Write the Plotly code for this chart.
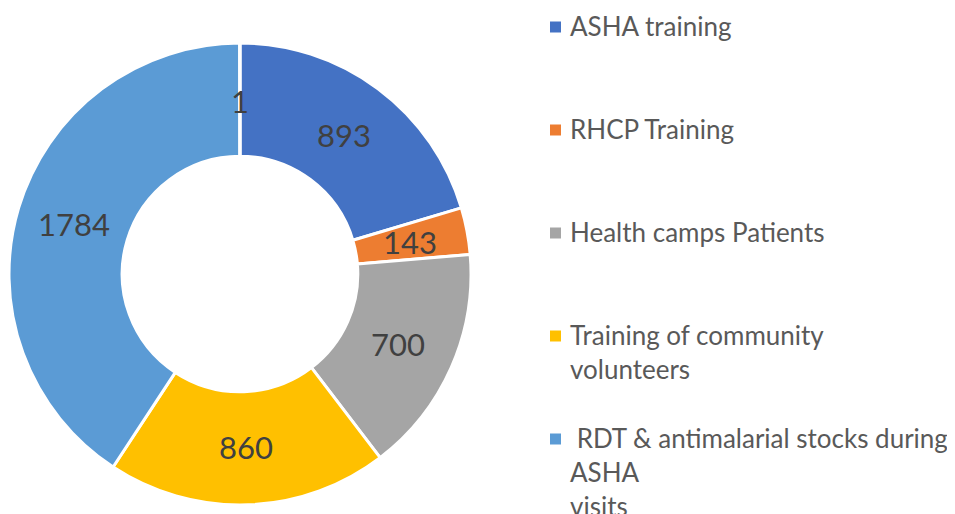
import math
import plotly.graph_objects as go

categories = ["ASHA training", "RHCP Training", "Health camps Patients",
              "Training of community volunteers",
              "RDT & antimalarial stocks during ASHA visits", "Other"]
values = [893, 143, 700, 860, 1784, 1]
colors = ["#4472C4", "#ED7D31", "#A5A5A5", "#FFC000", "#5B9BD5", "#70AD47"]
legend_labels = ["ASHA training", "RHCP Training", "Health camps Patients",
                 "Training of community<br>volunteers",
                 " RDT & antimalarial stocks during<br>ASHA<br>visits"]

W, H = 955, 514
OFF = 8  # page body margin offset


def px2x(x):
    return (x - OFF) / W


def px2y(y):
    return 1 - (y - OFF) / H


CX, CY, RAD = 240, 274, 231
dom_x = [px2x(CX - RAD), px2x(CX + RAD)]
dom_y = [px2y(CY + RAD), px2y(CY - RAD)]
hole = 0.51

fig = go.Figure(go.Pie(
    labels=categories, values=values, sort=False, direction="clockwise",
    rotation=0, hole=hole, textinfo="none",
    marker=dict(colors=colors, line=dict(color="white", width=3)),
    domain=dict(x=dom_x, y=dom_y), showlegend=False,
))

# data labels at ring mid-radius, derived from values
rm = 229.5 * (1 + hole) / 2
total = sum(values)
cum = 0
for v in values:
    mid = (cum + v / 2) / total * 2 * math.pi
    cum += v
    px = CX + rm * math.sin(mid)
    py = CY - rm * math.cos(mid)
    fig.add_annotation(x=px2x(px), y=px2y(py), xref="paper", yref="paper",
                       xanchor="center", yanchor="middle",
                       text=str(v), showarrow=False,
                       font=dict(family="Lato", size=31, color="#404040"))

# legend
for i, lab in enumerate(legend_labels):
    yc = 27 + i * 103
    fig.add_shape(type="rect", xref="paper", yref="paper",
                  x0=px2x(550), x1=px2x(561), y0=px2y(yc + 5.5), y1=px2y(yc - 5.5),
                  fillcolor=colors[i], line=dict(width=0))
    fig.add_annotation(x=px2x(568), y=px2y(yc - 19), xref="paper", yref="paper",
                       xanchor="left", yanchor="top", align="left",
                       text=lab, showarrow=False,
                       font=dict(family="Lato", size=26, color="#595959"))

fig.update_layout(width=W, height=H, margin=dict(l=0, r=0, t=0, b=0),
                  paper_bgcolor="white", plot_bgcolor="white")
fig.write_html("out.html")
